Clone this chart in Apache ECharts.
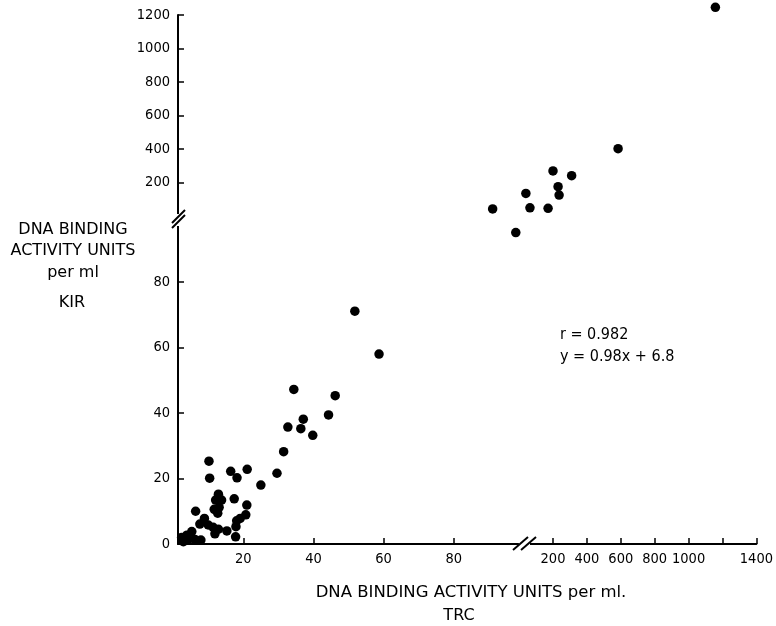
<!DOCTYPE html>
<html>
<head>
<meta charset="utf-8">
<script src="https://cdn.jsdelivr.net/npm/echarts@6/dist/echarts.min.js"></script>
<style>html,body{margin:0;padding:0;background:#fff}#c{width:776px;height:626px}</style>
</head>
<body>
<div id="c"></div>
<script>
// Lower (linear) section: TRC (x) vs KIR (y), units per ml
var trcLow = [51.8, 58.7, 34.4, 46.2, 44.3, 37.1, 32.7, 36.4, 39.8, 31.5, 29.6, 25.0,
  10.2, 10.4, 16.4, 18.2, 21.1, 12.9, 12.1, 13.8, 11.7, 12.7, 13.1, 17.4, 6.4, 21.0,
  20.7, 19.1, 18.1, 8.9, 7.6, 10.0, 11.4, 12.9, 11.9, 15.3, 17.9, 17.8, 5.3, 3.9,
  2.4, 4.3, 6.2, 7.9, 2.9, 91.1, 97.7];
var kirLow = [71.1, 58.0, 47.2, 45.3, 39.4, 38.1, 35.7, 35.2, 33.2, 28.2, 21.6, 18.0,
  25.3, 20.1, 22.2, 20.2, 22.8, 15.2, 13.4, 13.4, 10.6, 9.4, 11.2, 13.8, 10.0, 11.9,
  8.9, 7.8, 7.1, 7.8, 6.1, 5.8, 5.1, 4.5, 3.1, 4.0, 5.3, 2.2, 3.8, 2.7,
  2.0, 1.4, 1.4, 1.2, 0.7, 102.3, 95.1];
// Upper (compressed) section
var trcHigh = [40, 64, 171, 200, 310, 230, 236, 584, 1158];
var kirHigh = [134, 48, 45, 268, 240, 174, 124, 401, 1246];

var xLowTicks = [20, 40, 60, 80];
var yLowTicks = [0, 20, 40, 60, 80];
var xHighTicks = [200, 400, 600, 800, 1000, 1200, 1400];
var xHighLabels = [200, 400, 600, 800, 1000, 1400];
var yHighTicks = [200, 400, 600, 800, 1000, 1200];

var xTitle = 'DNA BINDING ACTIVITY UNITS per ml.';
var xSub = 'TRC';
var yTitleLines = ['DNA BINDING', 'ACTIVITY UNITS', 'per ml'];
var ySub = 'KIR';
var statR = 'r = 0.982';
var statEq = 'y = 0.98x + 6.8';

var FONT = "'Liberation Sans Narrow', 'DejaVu Sans Condensed', 'Roboto', sans-serif";
var TFONT = "'DejaVu Sans', sans-serif";

function pairs(xs, ys) { return xs.map(function (v, i) { return [v, ys[i]]; }); }
function plain(v) { return String(v); }

var axisLine = { show: true, onZero: false, lineStyle: { color: '#000', width: 2 } };
var lbl = { color: '#000', fontFamily: FONT, fontSize: 14.5, formatter: plain };
var tick = function (vals) { return { inside: true, length: 6, lineStyle: { color: '#000', width: 1.5 }, customValues: vals }; };

var chart = echarts.init(document.getElementById('c'), null, { renderer: 'canvas' });
chart.setOption({
  backgroundColor: '#fff',
  animation: false,
  grid: [
    { left: 178, top: 216.5, width: 340, height: 327.5 },
    { left: 519.1, top: 15, width: 238.8, height: 200.8 }
  ],
  xAxis: [
    { type: 'value', gridIndex: 0, min: 1.37, max: 98.33, axisLine: axisLine, axisTick: tick(xLowTicks),
      axisLabel: Object.assign({ margin: 8, customValues: xLowTicks }, lbl), splitLine: { show: false } },
    { type: 'value', gridIndex: 1, min: 0, max: 1400, position: 'bottom', offset: 328.2, axisLine: axisLine,
      axisTick: tick(xHighTicks),
      axisLabel: Object.assign({ margin: 8, customValues: xHighLabels }, lbl), splitLine: { show: false } }
  ],
  yAxis: [
    { type: 'value', gridIndex: 0, min: 0, max: 100, axisLine: axisLine, axisTick: tick(yLowTicks),
      axisLabel: Object.assign({ margin: 8, customValues: yLowTicks }, lbl), splitLine: { show: false } },
    { type: 'value', gridIndex: 1, min: 0, max: 1200, position: 'left', offset: 341.1, axisLine: axisLine,
      axisTick: tick(yHighTicks),
      axisLabel: Object.assign({ margin: 8, customValues: yHighTicks }, lbl), splitLine: { show: false } }
  ],
  series: [
    { type: 'scatter', xAxisIndex: 0, yAxisIndex: 0, data: pairs(trcLow, kirLow), clip: false,
      symbol: 'circle', symbolSize: 9.5, itemStyle: { color: '#000', opacity: 1 } },
    { type: 'scatter', xAxisIndex: 1, yAxisIndex: 1, data: pairs(trcHigh, kirHigh), clip: false,
      symbol: 'circle', symbolSize: 9.5, itemStyle: { color: '#000', opacity: 1 } }
  ],
  graphic: [
    // axis breaks
    { type: 'rect', z: 100, shape: { x: 173, y: 214, width: 10, height: 12 }, style: { fill: '#fff' } },
    { type: 'line', z: 101, shape: { x1: 172, y1: 228, x2: 185, y2: 215 }, style: { stroke: '#000', lineWidth: 2 } },
    { type: 'line', z: 101, shape: { x1: 172, y1: 223, x2: 185, y2: 210 }, style: { stroke: '#000', lineWidth: 2 } },
    { type: 'rect', z: 100, shape: { x: 519, y: 540, width: 11, height: 8 }, style: { fill: '#fff' } },
    { type: 'line', z: 101, shape: { x1: 513, y1: 550, x2: 528, y2: 537 }, style: { stroke: '#000', lineWidth: 2 } },
    { type: 'line', z: 101, shape: { x1: 521, y1: 550, x2: 536, y2: 537 }, style: { stroke: '#000', lineWidth: 2 } },
    // titles
    { type: 'text', z: 10, x: 471, y: 593, style: { text: xTitle, fill: '#000', font: '16.5px ' + TFONT, textAlign: 'center', textVerticalAlign: 'middle' } },
    { type: 'text', z: 10, x: 459, y: 616, style: { text: xSub, fill: '#000', font: '16px ' + TFONT, textAlign: 'center', textVerticalAlign: 'middle' } },
    { type: 'text', z: 10, x: 73, y: 230, style: { text: yTitleLines[0], fill: '#000', font: '16px ' + TFONT, textAlign: 'center', textVerticalAlign: 'middle' } },
    { type: 'text', z: 10, x: 73, y: 251, style: { text: yTitleLines[1], fill: '#000', font: '16px ' + TFONT, textAlign: 'center', textVerticalAlign: 'middle' } },
    { type: 'text', z: 10, x: 73, y: 273, style: { text: yTitleLines[2], fill: '#000', font: '16px ' + TFONT, textAlign: 'center', textVerticalAlign: 'middle' } },
    { type: 'text', z: 10, x: 72, y: 303, style: { text: ySub, fill: '#000', font: '16px ' + TFONT, textAlign: 'center', textVerticalAlign: 'middle' } },
    { type: 'text', z: 10, x: 560, y: 335, style: { text: statR, fill: '#000', font: '16px ' + FONT, textAlign: 'left', textVerticalAlign: 'middle' } },
    { type: 'text', z: 10, x: 560, y: 357, style: { text: statEq, fill: '#000', font: '16px ' + FONT, textAlign: 'left', textVerticalAlign: 'middle' } }
  ]
});
</script>
</body>
</html>
